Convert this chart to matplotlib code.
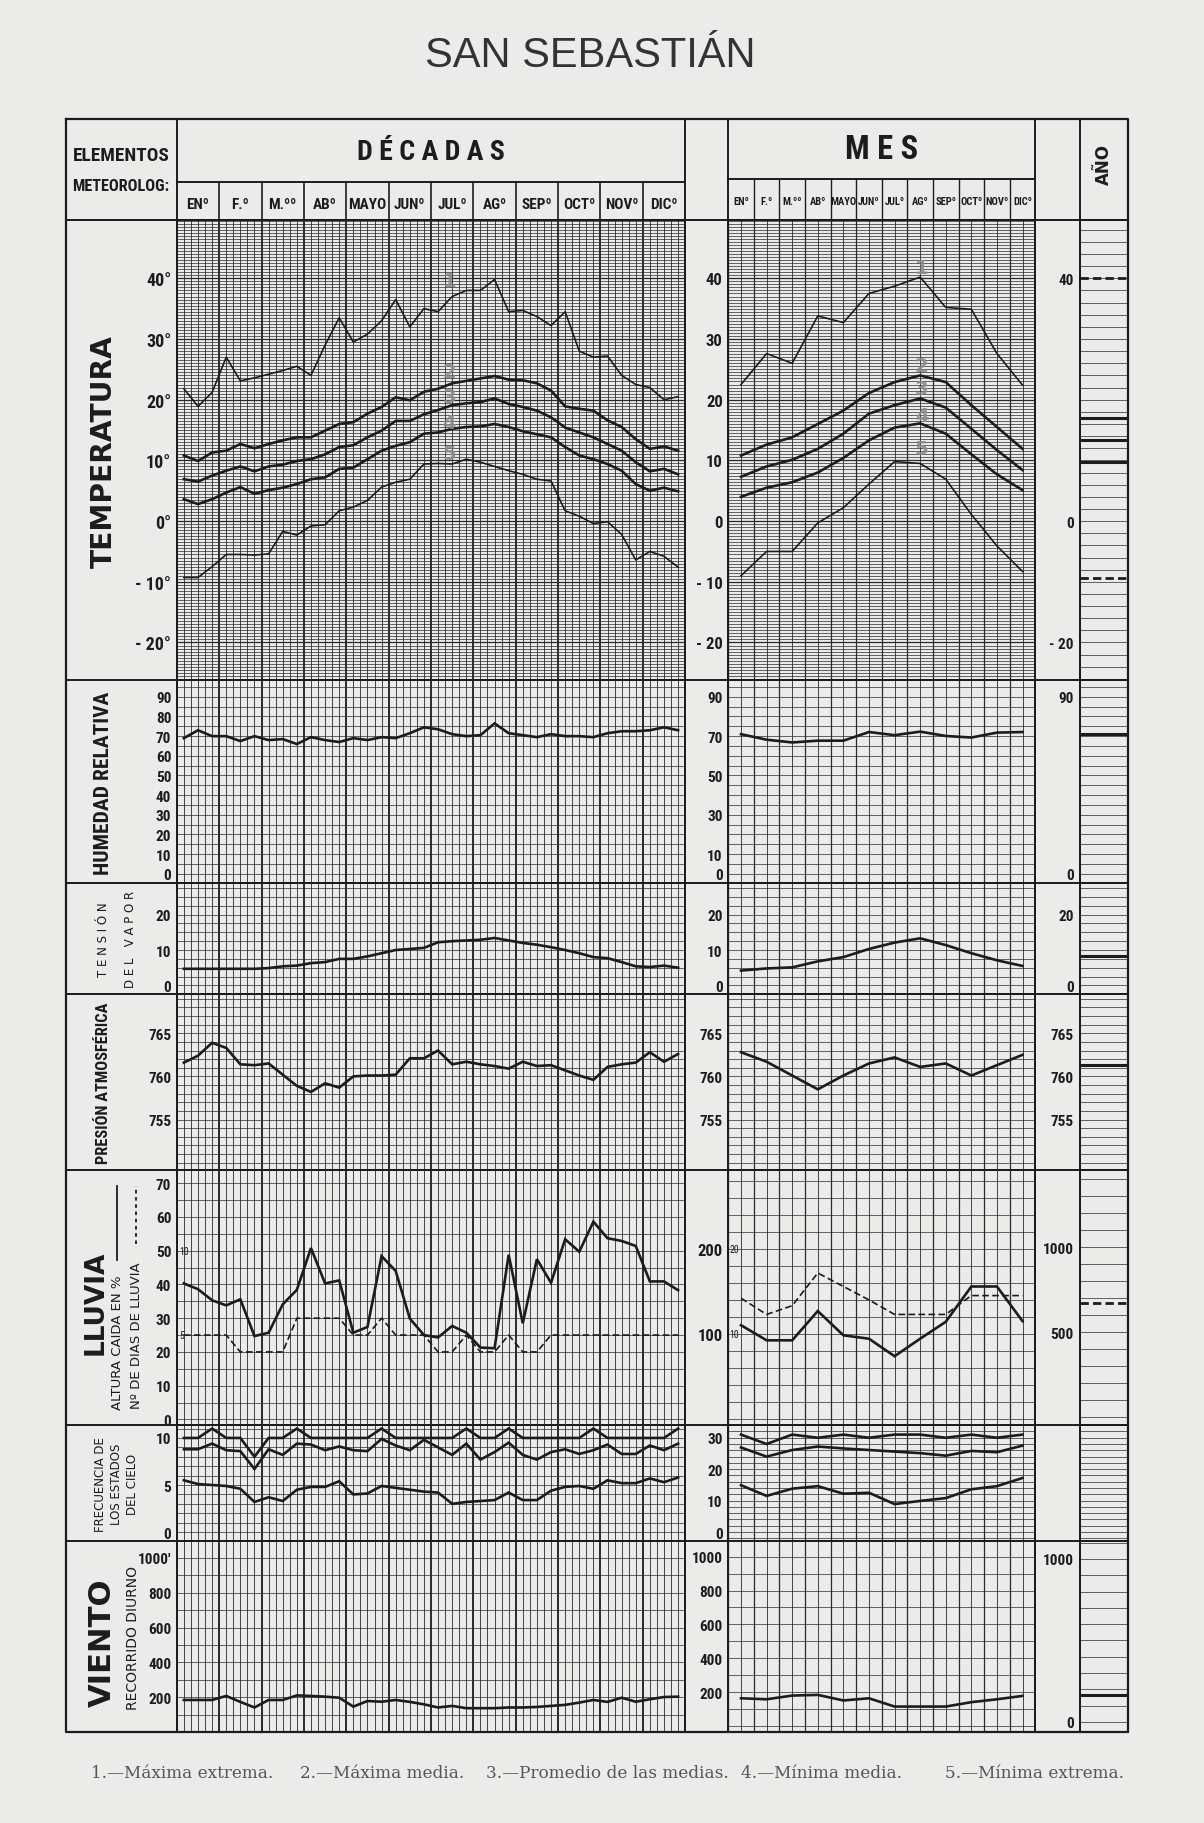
import matplotlib
matplotlib.use('Agg')
import matplotlib.pyplot as plt
from matplotlib import font_manager as fm
import numpy as np

# ---------------- datos ----------------
meses = ['ENº', 'F.º', 'M.ºº', 'ABº', 'MAYO', 'JUNº', 'JULº', 'AGº', 'SEPº', 'OCTº', 'NOVº', 'DICº']

# temperatura por decadas (1 max extrema, 2 max media, 3 promedio, 4 min media, 5 min extrema)
t1_dec = [21.8, 18.9, 21.2, 27.0, 23.1, 23.6, 24.2, 24.8, 25.5, 24.0, 29.0, 33.5, 29.5, 30.8, 33.0, 36.5, 32.0, 35.0,
          34.5, 37.0, 38.0, 38.0, 39.8, 34.5, 34.7, 33.7, 32.2, 34.5, 28.0, 27.0, 27.2, 24.0, 22.5, 22.0, 20.0, 20.5]
t2_dec = [10.8, 9.9, 11.3, 11.6, 12.7, 12.0, 12.7, 13.3, 13.8, 13.8, 14.9, 16.0, 16.3, 17.7, 18.8, 20.4, 19.9, 21.3,
          21.8, 22.7, 23.1, 23.5, 23.9, 23.3, 23.2, 22.7, 21.5, 18.9, 18.5, 18.2, 16.6, 15.5, 13.5, 11.9, 12.3, 11.6]
t3_dec = [6.9, 6.5, 7.5, 8.3, 9.0, 8.2, 9.0, 9.3, 9.9, 10.2, 11.0, 12.2, 12.5, 13.8, 14.9, 16.5, 16.5, 17.6,
          18.3, 19.1, 19.4, 19.6, 20.2, 19.3, 18.8, 18.2, 17.1, 15.4, 14.6, 13.8, 12.7, 11.6, 9.7, 8.2, 8.6, 7.7]
t4_dec = [3.6, 2.8, 3.6, 4.7, 5.6, 4.5, 5.1, 5.5, 6.1, 6.9, 7.2, 8.6, 8.8, 10.2, 11.6, 12.4, 13.0, 14.4,
          14.6, 15.2, 15.5, 15.6, 16.0, 15.5, 14.8, 14.3, 13.8, 12.2, 10.8, 10.2, 9.4, 8.3, 6.1, 5.0, 5.5, 4.9]
t5_dec = [-9.3, -9.3, -7.5, -5.5, -5.5, -5.6, -5.4, -1.7, -2.3, -0.8, -0.6, 1.7, 2.3, 3.4, 5.6, 6.4, 6.9, 9.4,
          9.5, 9.4, 10.2, 9.7, 9.0, 8.3, 7.7, 6.9, 6.6, 1.7, 0.8, -0.4, -0.1, -2.2, -6.4, -5.0, -5.8, -7.6]

t1_mes = [22.5, 27.6, 26.0, 33.8, 32.7, 37.5, 38.7, 40.2, 35.2, 34.9, 27.6, 22.4]
t2_mes = [10.8, 12.6, 13.8, 16.0, 18.2, 21.1, 22.9, 24.0, 22.9, 19.1, 15.5, 11.9]
t3_mes = [7.3, 9.0, 10.1, 11.9, 14.4, 17.7, 19.1, 20.2, 18.7, 15.2, 11.7, 8.4]
t4_mes = [4.0, 5.5, 6.4, 8.0, 10.4, 13.3, 15.4, 16.1, 14.4, 11.0, 7.7, 5.1]
t5_mes = [-9.0, -5.0, -5.0, -0.3, 2.2, 6.1, 9.8, 9.5, 6.9, 1.1, -4.1, -8.3]

ano_temp_ext = [40.0, -9.4]
ano_temp_med = [17.0, 13.4, 9.8]

hum_dec = [69, 73, 70, 70, 67.5, 70, 68, 68.5, 66, 69.5, 68, 67, 69, 68, 69.5, 69, 71.5, 74.5,
           73.5, 71, 70, 70.5, 76.5, 71.5, 70.5, 69.5, 71, 70, 70, 69.5, 71.5, 72.5, 72.5, 73, 74.5, 73]
hum_mes = [71.0, 68.2, 66.8, 67.7, 67.7, 72.1, 70.5, 72.3, 70.1, 69.3, 71.8, 72.1]
ano_hum = [70.9]

ten_dec = [4.7, 4.7, 4.7, 4.7, 4.7, 4.7, 4.9, 5.4, 5.6, 6.3, 6.6, 7.5, 7.5, 8.2, 9.1, 10.0, 10.3, 10.6,
           12.2, 12.5, 12.7, 12.9, 13.4, 12.7, 12.0, 11.5, 10.8, 10.0, 9.1, 8.0, 7.7, 6.6, 5.4, 5.2, 5.6, 5.0]
ten_mes = [4.2, 4.8, 5.1, 6.8, 8.0, 10.3, 12.1, 13.3, 11.4, 9.1, 7.1, 5.5]
ano_ten = [8.3]

pre_dec = [761.6, 762.4, 763.9, 763.3, 761.4, 761.3, 761.5, 760.2, 758.9, 758.2, 759.2, 758.7, 760.0, 760.1,
           760.1, 760.2, 762.1, 762.1, 763.0, 761.4, 761.7, 761.4, 761.2, 760.9, 761.7, 761.2, 761.3, 760.7,
           760.1, 759.6, 761.1, 761.4, 761.6, 762.8, 761.7, 762.6]
pre_mes = [762.8, 761.7, 760.1, 758.5, 760.1, 761.5, 762.2, 761.1, 761.5, 760.1, 761.3, 762.5]
ano_pre = [761.3]

llu_dec = [40.3, 38.6, 35.3, 33.8, 35.6, 24.7, 25.7, 34.1, 38.4, 50.8, 40.3, 41.2, 25.7, 27.4, 48.4, 44.0, 29.9, 25.0,
           24.3, 27.7, 25.7, 21.3, 21.1, 48.8, 28.5, 47.5, 40.5, 53.4, 49.7, 58.6, 53.7, 52.9, 51.4, 40.9, 40.9, 38.3]
dias_dec = [25, 25, 25, 25, 20, 20, 20, 20, 30, 30, 30, 30, 25, 25, 30, 25, 25, 25,
            20, 20, 25, 20, 20, 25, 20, 20, 25, 25, 25, 25, 25, 25, 25, 25, 25, 25]
llu_mes = [110.7, 92.9, 92.9, 127.4, 98.8, 94.8, 74.2, 94.8, 114.7, 156.3, 156.3, 115.5]
dias_mes = [142.5, 123.4, 133.7, 172.2, 156.3, 140.5, 123.4, 123.4, 123.4, 145.6, 145.6, 145.6]
ano_llu = [671]

cielo_a_dec = [10, 10, 11, 10, 10, 8, 10, 10, 11, 10, 10, 10, 10, 10, 11, 10, 10, 10,
               10, 10, 11, 10, 10, 11, 10, 10, 10, 10, 10, 11, 10, 10, 10, 10, 10, 11]
cielo_b_dec = [8.8, 8.8, 9.4, 8.7, 8.6, 6.7, 8.8, 8.2, 9.4, 9.3, 8.7, 9.1, 8.7, 8.6, 9.9, 9.2, 8.7, 9.8,
               9.0, 8.2, 9.4, 7.7, 8.5, 9.5, 8.2, 7.7, 8.5, 8.8, 8.3, 8.7, 9.3, 8.3, 8.3, 9.2, 8.7, 9.4]
cielo_c_dec = [5.5, 5.1, 5.0, 4.9, 4.6, 3.2, 3.7, 3.3, 4.5, 4.8, 4.8, 5.4, 4.0, 4.1, 4.9, 4.7, 4.5, 4.3,
               4.2, 3.0, 3.2, 3.3, 3.4, 4.2, 3.4, 3.4, 4.4, 4.8, 4.9, 4.6, 5.5, 5.2, 5.2, 5.7, 5.3, 5.8]
cielo_a_mes = [31, 28, 31, 30, 31, 30, 31, 31, 30, 31, 30, 31]
cielo_b_mes = [26.9, 24.0, 26.1, 27.2, 26.6, 26.1, 25.6, 25.1, 24.3, 25.8, 25.4, 27.5]
cielo_c_mes = [14.9, 11.5, 13.8, 14.6, 12.2, 12.5, 8.9, 9.9, 10.8, 13.6, 14.6, 17.2]

vie_dec = [185, 185, 185, 208, 174, 142, 185, 185, 211, 208, 204, 198, 147, 179, 175, 185, 174, 160,
           142, 151, 138, 138, 138, 142, 142, 145, 151, 157, 170, 185, 174, 198, 175, 189, 202, 204]
vie_mes = [163, 157, 179, 183, 150, 163, 114, 114, 114, 140, 157, 177]
ano_vie = [167]

leyenda = ['1.—Máxima extrema.', '2.—Máxima media.', '3.—Promedio de las medias.',
           '4.—Mínima media.', '5.—Mínima extrema.']

# ---------------- fuentes ----------------
# bold narrow face if one is installed, plain DejaVu Sans otherwise
def pick_narrow():
    cands = []
    for f in fm.fontManager.ttflist:
        cond = ('Narrow' in f.name or 'Condensed' in f.name or
                f.stretch in ('condensed', 'semi-condensed', 'extra-condensed'))
        if cond and isinstance(f.weight, int) and f.weight >= 600:
            cands.append(f)
    if not cands:
        return dict(family='DejaVu Sans'), False
    pref = ['Liberation', 'Noto Sans', 'Roboto', 'Open Sans', 'DejaVu']
    cands.sort(key=lambda f: min([i for i, p in enumerate(pref) if p in f.name] + [99]))
    f = cands[0]
    return dict(family=f.name, stretch=f.stretch), True


NARROW, narrow_ok = pick_narrow()
NS = 1.0 if narrow_ok else 0.8

PAPER = '#ebebea'
INK = '#1c1c1c'
GRID = '#2a2a2a'

fig = plt.figure(figsize=(12.04, 18.24), dpi=100)
fig.patch.set_facecolor(PAPER)

W, H = 1035.0, 1568.0   # layout units


def box(x0, x1, y0, y1):
    return fig.add_axes([x0 / W, 1 - y1 / H, (x1 - x0) / W, (y1 - y0) / H])


DEC = (152, 589)
MES = (626, 890)
ANO = (928, 970)
rows = {'temp': (190, 585), 'hum': (585, 760), 'ten': (760, 855), 'pre': (855, 1007),
        'llu': (1007, 1226), 'fre': (1226, 1326), 'vie': (1326, 1490)}


def hgrid(ax, ylim, step, heavy=None):
    start = np.ceil(ylim[0] / step) * step
    for v in np.arange(start, ylim[1], step):
        lw = 0.5
        if heavy and abs(v / heavy - round(v / heavy)) < 1e-6:
            lw = 0.9
        ax.axhline(v, color=GRID, lw=lw, zorder=1)


def frame(ax, ylim, ticks, labels, size):
    ax.set_ylim(*ylim)
    ax.set_xticks([])
    ax.set_yticks(ticks)
    ax.set_yticklabels(labels, fontsize=size * NS, fontweight='bold', color=INK, **NARROW)
    ax.tick_params(axis='y', length=0, pad=4)
    ax.set_facecolor('none')
    for s in ax.spines.values():
        s.set_color(INK)
        s.set_linewidth(1.3)


def dec_axes(key, ylim, step, ticks, labels, size=12, heavy=None):
    ax = box(DEC[0], DEC[1], *rows[key])
    ax.set_xlim(-0.5, 35.5)
    for p in np.arange(-0.5, 35.51, 0.5):
        month = abs((p + 0.5) % 3) < 1e-6
        ax.axvline(p, color=GRID, lw=1.4 if month else 0.6, zorder=1)
    hgrid(ax, ylim, step, heavy)
    frame(ax, ylim, ticks, labels, size)
    return ax


def mes_axes(key, ylim, step, ticks, labels, size=12, heavy=None):
    ax = box(MES[0], MES[1], *rows[key])
    ax.set_xlim(-0.5, 11.5)
    for p in np.arange(-0.5, 11.51, 0.5):
        ax.axvline(p, color=GRID, lw=0.9 if abs(p % 1 - 0.5) < 1e-6 else 0.6, zorder=1)
    hgrid(ax, ylim, step, heavy)
    frame(ax, ylim, ticks, labels, size)
    return ax


def ano_axes(key, ylim, step, ticks, labels, size=11):
    ax = box(ANO[0], ANO[1], *rows[key])
    ax.set_xlim(0, 1)
    hgrid(ax, ylim, step)
    frame(ax, ylim, ticks, labels, size)
    return ax


xd = np.arange(36)
xm = np.arange(12)
thick = dict(color=INK, lw=1.9, zorder=3, solid_joinstyle='miter')
thin = dict(color=INK, lw=1.2, zorder=3)
num_style = dict(color='#8c8c8c', fontsize=14, fontweight='bold', ha='center', va='center', zorder=4,
                 family='DejaVu Sans', alpha=0.9)

# ---- temperatura ----
tl = (-26.1, 49.6)
tt = [40, 30, 20, 10, 0, -10, -20]
a = dec_axes('temp', tl, 0.5, tt, ['40°', '30°', '20°', '10°', '0°', '- 10°', '- 20°'], 13, heavy=10)
a.plot(xd, t1_dec, **thin)
a.plot(xd, t2_dec, **thick)
a.plot(xd, t3_dec, **thick)
a.plot(xd, t4_dec, **thick)
a.plot(xd, t5_dec, **thin)
for n, (xx, yy) in enumerate([(18.8, 39.6), (18.8, 24.6), (18.8, 20.6), (18.8, 16.2), (18.8, 11.2)]):
    a.text(xx, yy, str(n + 1), **num_style)

m = mes_axes('temp', tl, 0.5, tt, ['40', '30', '20', '10', '0', '- 10', '- 20'], 12, heavy=10)
m.plot(xm, t1_mes, **thin)
m.plot(xm, t2_mes, **thick)
m.plot(xm, t3_mes, **thick)
m.plot(xm, t4_mes, **thick)
m.plot(xm, t5_mes, **thin)
for n, (xx, yy) in enumerate([(7.05, 41.8), (7.05, 25.6), (7.05, 21.8), (7.05, 17.4), (7.05, 11.9)]):
    m.text(xx, yy, str(n + 1), **num_style)

y = ano_axes('temp', tl, 2, [40, 0, -20], ['40', '0', '- 20'])
for v in ano_temp_ext:
    y.axhline(v, color=INK, lw=2.0, ls=(0, (3, 1.5)), zorder=3)
for v in ano_temp_med:
    y.axhline(v, color=INK, lw=2.2, zorder=3)

# ---- humedad ----
hl = (-4.7, 98.8)
a = dec_axes('hum', hl, 5, list(range(0, 100, 10)), [str(v) for v in range(0, 100, 10)], 11)
a.plot(xd, hum_dec, **thick)
m = mes_axes('hum', hl, 5, [90, 70, 50, 30, 10, 0], ['90', '70', '50', '30', '10', '0'], 11)
m.plot(xm, hum_mes, **thick)
y = ano_axes('hum', hl, 5, [90, 0], ['90', '0'])
for v in ano_hum:
    y.axhline(v, color=INK, lw=2.2, zorder=3)

# ---- tension del vapor ----
vl = (-2.3, 28.9)
a = dec_axes('ten', vl, 2.5, [20, 10, 0], ['20', '10', '0'], 11)
a.plot(xd, ten_dec, **thick)
m = mes_axes('ten', vl, 2.5, [20, 10, 0], ['20', '10', '0'], 11)
m.plot(xm, ten_mes, **thick)
y = ano_axes('ten', vl, 2.5, [20, 0], ['20', '0'])
for v in ano_ten:
    y.axhline(v, color=INK, lw=2.2, zorder=3)

# ---- presion ----
pl = (749.1, 769.6)
a = dec_axes('pre', pl, 1, [765, 760, 755], ['765', '760', '755'], 11)
a.plot(xd, pre_dec, **thick)
m = mes_axes('pre', pl, 1, [765, 760, 755], ['765', '760', '755'], 11)
m.plot(xm, pre_mes, **thick)
y = ano_axes('pre', pl, 1, [765, 760, 755], ['765', '760', '755'])
for v in ano_pre:
    y.axhline(v, color=INK, lw=2.2, zorder=3)

# ---- lluvia ----
ll = (-1.7, 73.8)
a = dec_axes('llu', ll, 5, list(range(0, 80, 10)), [str(v) for v in range(0, 80, 10)], 11)
a.plot(xd, llu_dec, **thick)
a.plot(xd, dias_dec, color=INK, lw=1.2, ls=(0, (4, 2)), zorder=3)
a.text(-0.3, 50, '10', fontsize=7, color=INK, va='center', ha='left', **NARROW)
a.text(-0.3, 25, '5', fontsize=7, color=INK, va='center', ha='left', **NARROW)
ml = (-7, 293)
m = mes_axes('llu', ml, 20, [200, 100], ['200', '100'], 12)
m.plot(xm, llu_mes, **thick)
m.plot(xm, dias_mes, color=INK, lw=1.2, ls=(0, (4, 2)), zorder=3)
m.text(-0.45, 200, '20', fontsize=7, color=INK, va='center', ha='left', **NARROW)
m.text(-0.45, 100, '10', fontsize=7, color=INK, va='center', ha='left', **NARROW)
y = ano_axes('llu', (-48, 1452), 100, [1000, 500], ['1000', '500'])
for v in ano_llu:
    y.axhline(v, color=INK, lw=2.0, ls=(0, (3, 1.5)), zorder=3)

# ---- frecuencia de los estados del cielo ----
fl = (-1.0, 11.36)
a = dec_axes('fre', fl, 1, [10, 5, 0], ['10', '5', '0'], 11)
for s in (cielo_a_dec, cielo_b_dec, cielo_c_dec):
    a.plot(xd, s, **thick)
m = mes_axes('fre', (-3, 34), 2, [30, 20, 10, 0], ['30', '20', '10', '0'], 11)
for s in (cielo_a_mes, cielo_b_mes, cielo_c_mes):
    m.plot(xm, s, **thick)
ano_axes('fre', (-3, 34), 2, [], [])

# ---- viento ----
a = dec_axes('vie', (0, 1093), 100, [1000, 800, 600, 400, 200], ["1000'", '800', '600', '400', '200'], 11)
a.plot(xd, vie_dec, **thick)
m = mes_axes('vie', (-38, 1090), 100, [1000, 800, 600, 400, 200], ['1000', '800', '600', '400', '200'], 11)
m.plot(xm, vie_mes, **thick)
y = ano_axes('vie', (-64, 1107), 100, [1000, 0], ['1000', '0'])
for v in ano_vie:
    y.axhline(v, color=INK, lw=2.2, zorder=3)

# ---------------- cuadro, cabeceras y textos ----------------
ov = fig.add_axes([0, 0, 1, 1], zorder=5)
ov.set_xlim(0, W)
ov.set_ylim(H, 0)
ov.axis('off')
ov.patch.set_alpha(0)

top, bottom, left, right = 103, 1490, 57, 970
ov.plot([left, right, right, left, left], [top, top, bottom, bottom, top], color=INK, lw=1.6)
for xv in (DEC[0], DEC[1], MES[0], MES[1], ANO[0]):
    ov.plot([xv, xv], [top, bottom], color=INK, lw=1.4)
for yv in (190,) + tuple(r[1] for r in rows.values())[:-1]:
    ov.plot([left, right], [yv, yv], color=INK, lw=1.4)
ov.plot([DEC[0], DEC[1]], [157, 157], color=INK, lw=1.4)
ov.plot([MES[0], MES[1]], [155, 155], color=INK, lw=1.4)
dw = (DEC[1] - DEC[0]) / 12
mw = (MES[1] - MES[0]) / 12
for k in range(1, 12):
    ov.plot([DEC[0] + k * dw] * 2, [157, 190], color=INK, lw=1.2)
    ov.plot([MES[0] + k * mw] * 2, [155, 190], color=INK, lw=1.0)
for k, mname in enumerate(meses):
    ov.text(DEC[0] + (k + 0.5) * dw, 176, mname, ha='center', va='center', fontsize=11 * NS,
            fontweight='bold', color=INK, **NARROW)
    ov.text(MES[0] + (k + 0.5) * mw, 174, mname, ha='center', va='center', fontsize=7.6 * NS,
            fontweight='bold', color=INK, **NARROW)

ov.text(507, 48, 'SAN SEBASTIÁN', ha='center', va='center', fontsize=30, color='#333333',
        family='Liberation Sans')

# texts whose length is fitted to the reference: (text, target length in layout units)
fitted = []
bold_n = dict(fontweight='bold', color=INK, **NARROW)
fitted.append((ov.text(104, 134, 'ELEMENTOS', ha='center', va='center', fontsize=11, **bold_n), 83))
fitted.append((ov.text(104, 160, 'METEOROLOG:', ha='center', va='center', fontsize=11, **bold_n), 84))
fitted.append((ov.text((DEC[0] + DEC[1]) / 2, 131, 'D É C A D A S', ha='center', va='center',
                       fontsize=22, **bold_n), 127))
fitted.append((ov.text((MES[0] + MES[1]) / 2, 129, 'M E S', ha='center', va='center', fontsize=21,
                       **bold_n), 63))
ov.text((ANO[0] + ANO[1]) / 2, 141, 'AÑO', rotation=90, ha='center', va='center', fontsize=12,
        fontweight='bold', color=INK)

rot = dict(rotation=90, ha='center', va='center', rotation_mode='anchor', color=INK)
fitted.append((ov.text(89, 388, 'TEMPERATURA', fontsize=20, fontweight='bold', **rot), 200))
fitted.append((ov.text(89, 673, 'HUMEDAD RELATIVA', fontsize=16, fontweight='bold', **rot, **NARROW), 157))
ov.text(89, 808, 'T E N S I Ó N', fontsize=8.5, **rot)
ov.text(112, 808, 'D E L   V A P O R', fontsize=8.5, **rot)
fitted.append((ov.text(89, 931, 'PRESIÓN ATMOSFÉRICA', fontsize=13, fontweight='bold', **rot, **NARROW), 138))
fitted.append((ov.text(82, 1120, 'LLUVIA', fontsize=21, fontweight='bold', **rot), 90))
ov.text(101, 1154, 'ALTURA CAIDA EN %', fontsize=9.5, **rot)
ov.plot([101, 101], [1084, 1020], color=INK, lw=1.3)
ov.text(117, 1148, 'Nº DE DIAS DE LLUVIA', fontsize=9.5, **rot)
ov.plot([117, 117], [1070, 1020], color=INK, lw=1.3, ls=(0, (2, 2)))
ov.text(86, 1276, 'FRECUENCIA DE', fontsize=8.5, **rot)
ov.text(100, 1276, 'LOS ESTADOS', fontsize=8.5, **rot)
ov.text(114, 1276, 'DEL CIELO', fontsize=8.5, **rot)
fitted.append((ov.text(88, 1412, 'VIENTO', fontsize=20, fontweight='bold', **rot), 110))
ov.text(114, 1408, 'RECORRIDO DIURNO', fontsize=10, **rot)

for xpos, txt in zip([78, 258, 418, 637, 812], leyenda):
    ov.text(xpos, 1525, txt, ha='left', va='center', fontsize=12.2, color='#555555', family='DejaVu Serif')

# scale the fitted texts to their measured length
renderer = fig.canvas.get_renderer()
px = 1204.0 / W
for t, target in fitted:
    bb = t.get_window_extent(renderer)
    cur = bb.height if t.get_rotation() == 90 else bb.width
    t.set_fontsize(t.get_fontsize() * target * px / cur)

fig.savefig('out.png', dpi=100, facecolor=PAPER)
